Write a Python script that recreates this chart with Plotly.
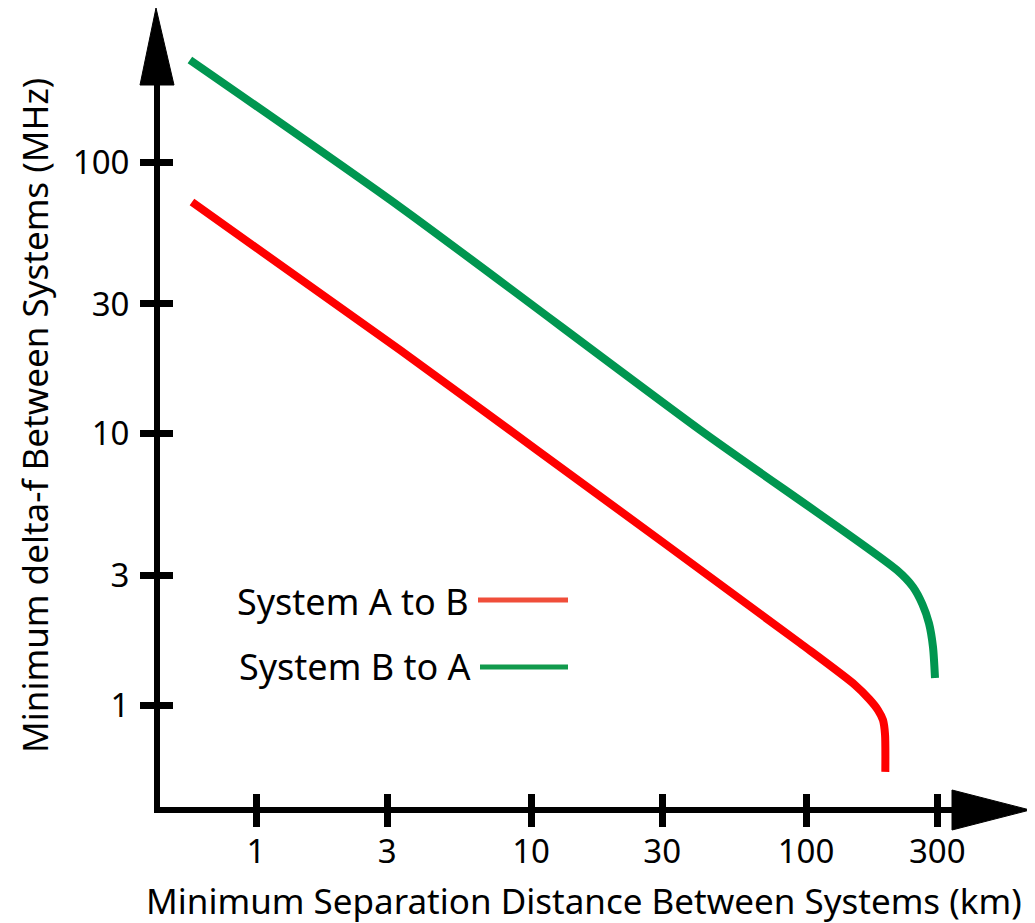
import plotly.graph_objects as go

# ---------------- data ----------------
x_ticks = [1, 3, 10, 30, 100, 300]
y_ticks = [1, 3, 10, 30, 100]
x_tick_labels = ["1", "3", "10", "30", "100", "300"]
y_tick_labels = ["1", "3", "10", "30", "100"]

# System A to B (red)
a_to_b_dist = [0.585, 3.34, 10.5, 95.1, 150.0, 170.0, 182.7, 190.5, 193.8, 194.3]
a_to_b_df = [71.2, 20.3, 8.70, 1.69, 1.19, 1.05, 0.958, 0.88, 0.78, 0.567]

# System B to A (green)
b_to_a_dist = [0.575, 3.34, 41.2, 214.0, 245.0, 265.0, 280.0, 289.6, 294.5]
b_to_a_df = [237.6, 68.3, 10.3, 3.14, 2.72, 2.35, 2.0, 1.635, 1.257]

series_names = ["System A to B", "System B to A"]
line_colors = ["#fe0000", "#009650"]
legend_colors = ["#f04e3a", "#119a4c"]

x_title = "Minimum Separation Distance Between Systems (km)"
y_title = "Minimum delta-f Between Systems (MHz)"

# ---------------- layout geometry ----------------
OFF = 8                     # page offset of the figure (body margin)
W, H = 1027, 915            # figure size
L, R, T, B = 160, 990, 40, 807  # plot-area edges in page pixels
PW, PH = R - L, B - T

def px(xp):
    return (xp - L) / PW

def py(yp):
    return (B - yp) / PH

FONT = "Noto Sans"

fig = go.Figure()
fig.add_trace(go.Scatter(x=a_to_b_dist, y=a_to_b_df, mode="lines",
                         name=series_names[0],
                         line=dict(color=line_colors[0], width=8, shape="spline", smoothing=0.7),
                         showlegend=False))
fig.add_trace(go.Scatter(x=b_to_a_dist, y=b_to_a_df, mode="lines",
                         name=series_names[1],
                         line=dict(color=line_colors[1], width=8, shape="spline", smoothing=0.7),
                         showlegend=False))

x_range = [(L - 256) / 275, (R - 256) / 275]
y_range = [(705 - B) / 271.5, (705 - T) / 271.5]

common_axis = dict(type="log", showgrid=False, zeroline=False,
                   ticks="outside", ticklen=14, tickwidth=7, tickcolor="black")

fig.update_layout(
    width=W, height=H,
    margin=dict(l=L - OFF, r=W - (R - OFF), t=T - OFF, b=H - (B - OFF), pad=0),
    paper_bgcolor="white", plot_bgcolor="white",
    font=dict(family=FONT, color="black"),
    xaxis=dict(range=x_range, tickvals=x_ticks, ticktext=x_tick_labels,
               showline=True, linewidth=6, linecolor="black",
               tickfont=dict(size=33, family=FONT, color="black"),
               ticklabelstandoff=-4, **common_axis),
    yaxis=dict(range=y_range, tickvals=y_ticks, ticktext=y_tick_labels,
               showline=True, linewidth=6, linecolor="black",
               tickfont=dict(size=33, family=FONT, color="black"),
               ticklabelstandoff=4, **common_axis),
    xaxis2=dict(overlaying="x", anchor="y", side="bottom", range=x_range,
                tickvals=x_ticks, showticklabels=False, showline=False,
                type="log", showgrid=False, zeroline=False,
                ticks="inside", ticklen=13, tickwidth=7, tickcolor="black"),
    yaxis2=dict(overlaying="y", anchor="x", side="left", range=y_range,
                tickvals=y_ticks, showticklabels=False, showline=False,
                type="log", showgrid=False, zeroline=False,
                ticks="inside", ticklen=13, tickwidth=7, tickcolor="black"),
)

# helper trace so the overlay tick axes are drawn
fig.add_trace(go.Scatter(x=[x_ticks[0]], y=[y_ticks[0]], xaxis="x2", yaxis="y2",
                         mode="markers", marker=dict(opacity=0), showlegend=False,
                         hoverinfo="skip"))

shapes = [
    # arrow heads
    dict(type="path", xref="paper", yref="paper",
         path=f"M {px(140)} {py(85)} L {px(156)} {py(8)} L {px(174)} {py(85)} Z",
         fillcolor="black", line=dict(color="black", width=1)),
    dict(type="path", xref="paper", yref="paper",
         path=f"M {px(952)} {py(790)} L {px(1030)} {py(810)} L {px(952)} {py(830)} Z",
         fillcolor="black", line=dict(color="black", width=1)),
    # legend samples
    dict(type="line", xref="paper", yref="paper",
         x0=px(478), x1=px(568), y0=py(600), y1=py(600),
         line=dict(color=legend_colors[0], width=5)),
    dict(type="line", xref="paper", yref="paper",
         x0=px(480), x1=px(568), y0=py(667), y1=py(667),
         line=dict(color=legend_colors[1], width=5)),
]
fig.update_layout(shapes=shapes)

annotations = [
    dict(text=series_names[0], xref="paper", yref="paper", x=px(471), y=py(601),
         xanchor="right", yanchor="middle", showarrow=False,
         font=dict(size=36, family=FONT, color="black")),
    dict(text=series_names[1], xref="paper", yref="paper", x=px(473), y=py(666),
         xanchor="right", yanchor="middle", showarrow=False,
         font=dict(size=36, family=FONT, color="black")),
    dict(text=x_title, xref="paper", yref="paper", x=px(584), y=py(900),
         xanchor="center", yanchor="middle", showarrow=False,
         font=dict(size=35, family=FONT, color="black")),
    dict(text=y_title, xref="paper", yref="paper", x=px(34), y=py(416),
         xanchor="center", yanchor="middle", showarrow=False, textangle=-90,
         font=dict(size=35, family=FONT, color="black")),
]
fig.update_layout(annotations=annotations)

fig.write_html("out.html")
